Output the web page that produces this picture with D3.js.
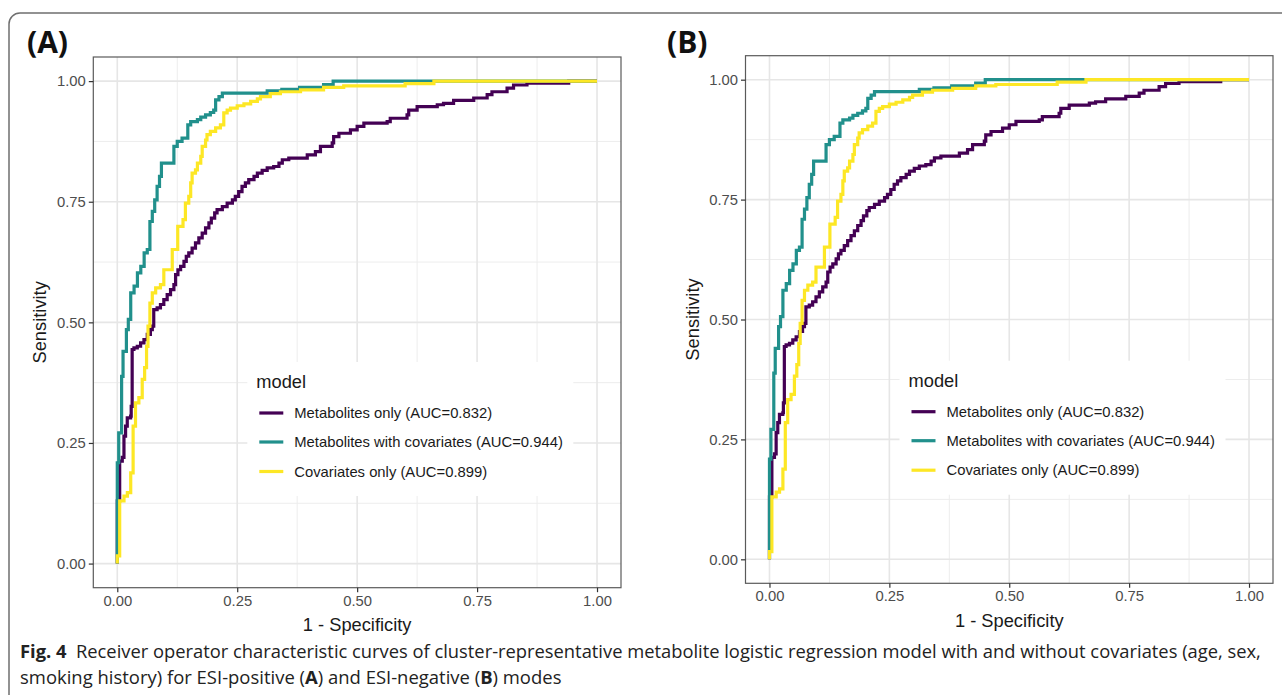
<!DOCTYPE html>
<html><head><meta charset="utf-8">
<script src="https://cdn.jsdelivr.net/npm/d3@7"></script>
<style>
html,body{margin:0;padding:0;background:#fff;}
svg{display:block;}
</style></head>
<body>
<svg id="fig" width="1282" height="695"></svg>
<script>
// ---------- data ----------
const modelNames = ["Metabolites only (AUC=0.832)", "Metabolites with covariates (AUC=0.944)", "Covariates only (AUC=0.899)"];
const modelColors = ["#440154", "#21908C", "#FDE725"];
const tickValues = [0, 0.25, 0.5, 0.75, 1];
const tickLabels = ["0.00", "0.25", "0.50", "0.75", "1.00"];
const panelLabels = ["(A)", "(B)"];

// ROC points: [1 - specificity, sensitivity reached at that x]
const metabolitesOnly = [[0,0],[0,0.13],[0.005,0.2125],[0.0104,0.22],[0.0139,0.264],[0.0173,0.285],[0.0208,0.302],[0.0278,0.3056],[0.029,0.326],[0.031,0.4437],[0.0347,0.447],[0.0417,0.4505],[0.0486,0.4576],[0.0556,0.464],[0.0625,0.475],[0.069,0.485],[0.073,0.492],[0.076,0.5265],[0.083,0.530],[0.090,0.537],[0.097,0.547],[0.104,0.5575],[0.111,0.568],[0.118,0.578],[0.1215,0.599],[0.1264,0.609],[0.132,0.616],[0.139,0.6265],[0.1438,0.637],[0.149,0.644],[0.156,0.654],[0.163,0.6646],[0.170,0.675],[0.177,0.685],[0.184,0.696],[0.191,0.706],[0.196,0.716],[0.203,0.727],[0.208,0.7335],[0.219,0.740],[0.229,0.747],[0.240,0.754],[0.246,0.761],[0.253,0.771],[0.260,0.782],[0.267,0.789],[0.274,0.796],[0.285,0.8025],[0.292,0.8095],[0.302,0.815],[0.3125,0.820],[0.326,0.823],[0.337,0.830],[0.344,0.837],[0.3575,0.8405],[0.396,0.847],[0.413,0.854],[0.4235,0.8646],[0.448,0.872],[0.451,0.885],[0.462,0.892],[0.486,0.899],[0.500,0.906],[0.514,0.913],[0.5625,0.916],[0.569,0.923],[0.604,0.930],[0.6075,0.940],[0.625,0.947],[0.667,0.951],[0.680,0.954],[0.701,0.960],[0.743,0.965],[0.771,0.972],[0.781,0.978],[0.8125,0.9855],[0.826,0.992],[0.854,0.996],[0.941,1.0],[1.0,1.0]];

const metabolitesWithCovariates = [[0,0],[0,0.209],[0.003,0.271],[0.009,0.388],[0.012,0.44],[0.019,0.485],[0.023,0.506],[0.028,0.561],[0.035,0.575],[0.042,0.6025],[0.049,0.616],[0.056,0.644],[0.0625,0.651],[0.068,0.709],[0.073,0.730],[0.078,0.754],[0.083,0.782],[0.088,0.8025],[0.092,0.830],[0.118,0.8646],[0.125,0.875],[0.135,0.882],[0.147,0.9095],[0.153,0.916],[0.167,0.920],[0.174,0.9255],[0.184,0.930],[0.194,0.935],[0.201,0.940],[0.205,0.961],[0.212,0.968],[0.219,0.975],[0.3125,0.98],[0.343,0.983],[0.38,0.987],[0.43,0.993],[0.45,1.0],[1.0,1.0]];

const covariatesOnly = [[0,0],[0,0.016],[0.005,0.13],[0.014,0.14],[0.021,0.147],[0.028,0.188],[0.033,0.285],[0.038,0.333],[0.045,0.344],[0.052,0.382],[0.057,0.406],[0.061,0.45],[0.064,0.492],[0.068,0.540],[0.073,0.561],[0.080,0.5715],[0.090,0.578],[0.097,0.609],[0.1146,0.651],[0.126,0.699],[0.137,0.713],[0.142,0.747],[0.149,0.761],[0.153,0.789],[0.156,0.8095],[0.163,0.816],[0.167,0.830],[0.174,0.844],[0.177,0.8646],[0.184,0.878],[0.187,0.889],[0.194,0.896],[0.205,0.903],[0.215,0.9095],[0.222,0.934],[0.229,0.940],[0.236,0.944],[0.25,0.949],[0.264,0.953],[0.278,0.958],[0.292,0.963],[0.2985,0.968],[0.319,0.974],[0.340,0.978],[0.382,0.982],[0.430,0.987],[0.472,0.99],[0.60,0.995],[0.66,1.0],[1.0,1.0]];

// Panel B (ESI-negative) curves: visually identical to panel A
const curvesA = [metabolitesOnly, metabolitesWithCovariates, covariatesOnly];
const curvesB = [metabolitesOnly, metabolitesWithCovariates, covariatesOnly];

const captionBold = "Fig. 4";
const captionLine1 = "  Receiver operator characteristic curves of cluster-representative metabolite logistic regression model with and without covariates (age, sex,";
const captionLine2Parts = [["smoking history) for ESI-positive (",false],["A",true],[") and ESI-negative (",false],["B",true],[") modes",false]];

// ---------- drawing ----------
const svg = d3.select("#fig");
const FONT = "'Liberation Sans', Arial, Helvetica, sans-serif";
const CAPFONT = "'Open Sans', 'Noto Sans', sans-serif";

// outer frame (cropped at right/bottom)
svg.append("rect").attr("x", 9).attr("y", 13).attr("width", 1320).attr("height", 740)
  .attr("rx", 11).attr("fill", "none").attr("stroke", "#6f6f6f").attr("stroke-width", 1.5);

const panels = [
  {label: panelLabels[0], lx: 27, ly: 53, left: 93.3, right: 621, top: 57, bottom: 587.7, curves: curvesA, ylabX: 40},
  {label: panelLabels[1], lx: 667, ly: 53, left: 745.5, right: 1273, top: 55.7, bottom: 583.3, curves: curvesB, ylabX: 693}
];

panels.forEach(p => {
  const g = svg.append("g");
  const x = d3.scaleLinear().domain([-0.05, 1.05]).range([p.left, p.right]);
  const y = d3.scaleLinear().domain([-0.05, 1.05]).range([p.bottom, p.top]);

  g.append("rect").attr("x", p.left).attr("y", p.top).attr("width", p.right - p.left).attr("height", p.bottom - p.top).attr("fill", "#fff");

  // minor grid
  const minor = [0.125, 0.375, 0.625, 0.875];
  g.selectAll(".mgx").data(minor).join("line")
    .attr("x1", d => x(d)).attr("x2", d => x(d)).attr("y1", p.top).attr("y2", p.bottom)
    .attr("stroke", "#ededed").attr("stroke-width", 1);
  g.selectAll(".mgy").data(minor).join("line")
    .attr("y1", d => y(d)).attr("y2", d => y(d)).attr("x1", p.left).attr("x2", p.right)
    .attr("stroke", "#ededed").attr("stroke-width", 1);
  // major grid
  g.selectAll(".gx").data(tickValues).join("line")
    .attr("x1", d => x(d)).attr("x2", d => x(d)).attr("y1", p.top).attr("y2", p.bottom)
    .attr("stroke", "#e6e6e6").attr("stroke-width", 1.6);
  g.selectAll(".gy").data(tickValues).join("line")
    .attr("y1", d => y(d)).attr("y2", d => y(d)).attr("x1", p.left).attr("x2", p.right)
    .attr("stroke", "#e6e6e6").attr("stroke-width", 1.6);

  // curves
  const line = d3.line().x(d => x(d[0])).y(d => y(d[1])).curve(d3.curveStepAfter);
  p.curves.forEach((c, i) => {
    g.append("path").attr("d", line(c)).attr("fill", "none")
      .attr("stroke", modelColors[i]).attr("stroke-width", 3.2).attr("stroke-linejoin", "miter");
  });

  // legend
  const lgx = p.left + 154, lgy = p.top + 305;
  g.append("rect").attr("x", lgx).attr("y", lgy).attr("width", 326).attr("height", 134).attr("fill", "#fff");
  g.append("text").attr("x", lgx + 9).attr("y", lgy + 20).attr("dy", "0.32em")
    .attr("font-family", FONT).attr("font-size", 18.3).attr("fill", "#1a1a1a").text("model");
  const keyY = [51, 80, 109.5];
  modelNames.forEach((n, i) => {
    g.append("line").attr("x1", lgx + 12).attr("x2", lgx + 36).attr("y1", lgy + keyY[i]).attr("y2", lgy + keyY[i])
      .attr("stroke", modelColors[i]).attr("stroke-width", 3.2);
    g.append("text").attr("x", lgx + 47).attr("y", lgy + keyY[i]).attr("dy", "0.35em")
      .attr("font-family", FONT).attr("font-size", 14.8).attr("fill", "#1a1a1a").text(n);
  });

  // panel border
  g.append("rect").attr("x", p.left).attr("y", p.top).attr("width", p.right - p.left).attr("height", p.bottom - p.top)
    .attr("fill", "none").attr("stroke", "#5a5a5a").attr("stroke-width", 1.2);

  // axes
  const xa = d3.axisBottom(x).tickValues(tickValues).tickFormat((d, i) => tickLabels[i]).tickSize(4.5).tickPadding(3);
  const ya = d3.axisLeft(y).tickValues(tickValues).tickFormat((d, i) => tickLabels[i]).tickSize(4.5).tickPadding(3);
  const gx = g.append("g").attr("transform", `translate(0,${p.bottom})`).call(xa);
  const gy = g.append("g").attr("transform", `translate(${p.left},0)`).call(ya);
  [gx, gy].forEach(a => {
    a.select(".domain").remove();
    a.selectAll(".tick line").attr("stroke", "#333").attr("stroke-width", 1.2);
    a.selectAll(".tick text").attr("font-family", FONT).attr("font-size", 14.8).attr("fill", "#4d4d4d");
  });

  // axis titles
  g.append("text").attr("x", (p.left + p.right) / 2).attr("y", p.bottom + 37).attr("dy", "0.35em")
    .attr("text-anchor", "middle").attr("font-family", FONT).attr("font-size", 18.3).attr("fill", "#1a1a1a").text("1 - Specificity");
  g.append("text").attr("transform", `translate(${p.ylabX},${(p.top + p.bottom) / 2}) rotate(-90)`).attr("dy", "0.35em")
    .attr("text-anchor", "middle").attr("font-family", FONT).attr("font-size", 18.3).attr("fill", "#1a1a1a").text("Sensitivity");

  // panel label
  g.append("text").attr("x", p.lx).attr("y", p.ly).attr("font-family", CAPFONT).attr("font-weight", 700)
    .attr("font-size", 30).attr("fill", "#111").text(p.label);
});

// caption
function fitLine(sel, targetWidth, x0) {
  const w = sel.node().getComputedTextLength();
  const s = targetWidth / w;
  sel.attr("transform", `translate(${x0},0) scale(${s},1) translate(${-x0},0)`);
}
const c1 = svg.append("text").attr("x", 20).attr("y", 658).attr("font-family", CAPFONT).attr("font-size", 18.5).attr("fill", "#222");
c1.append("tspan").attr("font-weight", 700).text(captionBold);
c1.append("tspan").style("white-space", "pre").text(captionLine1);
fitLine(c1, 1242, 20);
const c2 = svg.append("text").attr("x", 20).attr("y", 684).attr("font-family", CAPFONT).attr("font-size", 18.5).attr("fill", "#222");
captionLine2Parts.forEach(([t, b]) => c2.append("tspan").attr("font-weight", b ? 700 : 400).style("white-space", "pre").text(t));
fitLine(c2, 542, 20);
</script>
</body></html>
